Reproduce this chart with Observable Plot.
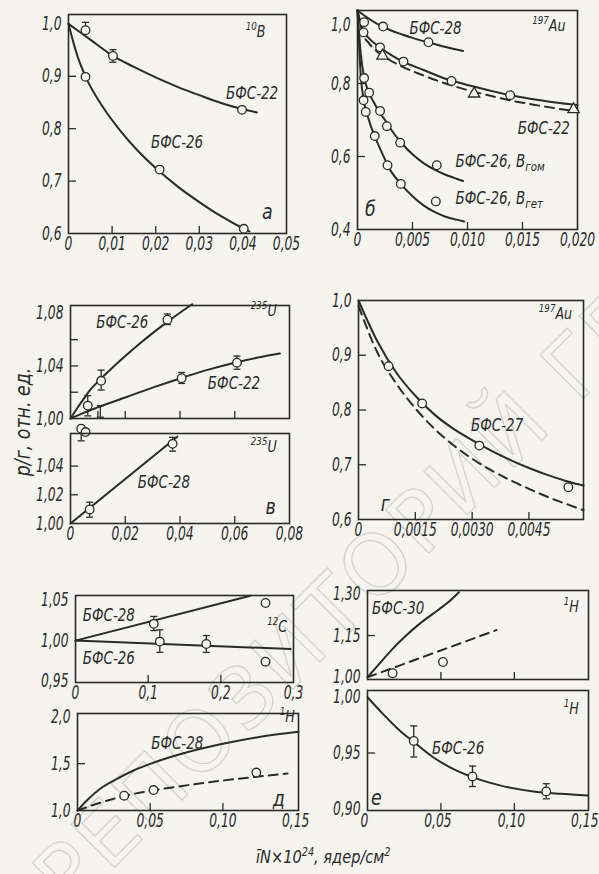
<!DOCTYPE html>
<html><head><meta charset="utf-8">
<script src="https://cdn.jsdelivr.net/npm/d3@7"></script>
<script src="https://cdn.jsdelivr.net/npm/@observablehq/plot@0.6"></script>
<style>
html,body{margin:0;padding:0;background:#f5f4ef;}
#fig{position:relative;width:599px;height:874px;overflow:hidden;background:#f5f4ef;
 font-family:"DejaVu Sans Condensed","DejaVu Sans",sans-serif;font-style:italic;color:#2a2a2a;}
#fig svg{position:absolute;overflow:visible;}
#ylab{position:absolute;left:23px;top:422px;transform:translate(-50%,-50%) rotate(-90deg) scale(0.92,1);white-space:nowrap;font-size:21px;}
#xlab{position:absolute;left:256px;top:846px;white-space:nowrap;font-size:18px;line-height:1;transform:scaleX(0.9);transform-origin:left center;}
#xlab sup{font-size:12px;vertical-align:7px;}
</style></head><body><div id="fig">
<div id="ylab">р/г, отн. ед.</div>
<div id="xlab">īN×10<sup>24</sup>, ядер/см<sup>2</sup></div>
</div>
<script>
// ---------- data: panel а (10B) ----------
const a22Curve = [[0,1.0],[0.005,0.97],[0.01,0.94],[0.015,0.918],[0.02,0.898],[0.025,0.88],[0.03,0.864],[0.035,0.849],[0.04,0.837],[0.0432,0.831]];
const a26Curve = [[0,1.0],[0.002,0.94],[0.004,0.898],[0.008,0.84],[0.012,0.795],[0.016,0.757],[0.02,0.725],[0.025,0.69],[0.03,0.66],[0.035,0.633],[0.04,0.61],[0.0415,0.604]];
const a22Pts = [[0.0039,0.988],[0.0102,0.939],[0.0398,0.836]];
const a22Err = [[0.0039,0.988,1.003],[0.0102,0.927,0.951]];
const a26Pts = [[0.0039,0.899],[0.0209,0.722],[0.0402,0.609]];
// ---------- panel б (197Au) ----------
const b28Curve = [[0,1.0],[0.001,0.978],[0.002,0.96],[0.003,0.946],[0.004,0.935],[0.005,0.925],[0.006,0.916],[0.007,0.908],[0.008,0.9],[0.0096,0.889]];
const b28Pts = [[0.0006,0.968],[0.00233,0.956],[0.00645,0.913]];
const b22Solid = [[0,1.0],[0.0005,0.945],[0.001,0.925],[0.002,0.9],[0.003,0.879],[0.004,0.862],[0.006,0.837],[0.008,0.813],[0.01,0.796],[0.012,0.781],[0.014,0.767],[0.016,0.757],[0.018,0.748],[0.02,0.741]];
const b22Pts = [[0.00055,0.94],[0.00205,0.899],[0.00418,0.86],[0.00855,0.807],[0.01388,0.768]];
const b22Dashed = [[0,1.0],[0.0005,0.935],[0.001,0.912],[0.002,0.882],[0.003,0.863],[0.004,0.847],[0.006,0.822],[0.008,0.8],[0.01,0.782],[0.012,0.767],[0.014,0.753],[0.016,0.742],[0.018,0.732],[0.02,0.723]];
const b22Tri = [[0.00227,0.876],[0.0106,0.772],[0.01964,0.729]];
const bGomCurve = [[0,1.0],[0.0003,0.88],[0.0006,0.818],[0.001,0.777],[0.0015,0.748],[0.002,0.72],[0.0025,0.70],[0.003,0.676],[0.004,0.637],[0.005,0.606],[0.006,0.582],[0.007,0.564],[0.008,0.55],[0.009,0.539],[0.0096,0.533]];
const bGomPts = [[0.0006,0.815],[0.00106,0.775],[0.00205,0.725],[0.00267,0.683],[0.00388,0.638],[0.00721,0.576]];
const bGetCurve = [[0,1.0],[0.0003,0.82],[0.0006,0.748],[0.001,0.703],[0.0015,0.66],[0.002,0.625],[0.003,0.562],[0.004,0.523],[0.005,0.491],[0.006,0.466],[0.007,0.448],[0.008,0.435],[0.009,0.427],[0.0097,0.422]];
const bGetPts = [[0.00055,0.754],[0.00075,0.722],[0.00157,0.656],[0.00273,0.576],[0.00394,0.525],[0.00712,0.477]];
// ---------- panel в (235U) ----------
const v26Curve = [[0,1.0],[0.0025,1.008],[0.005,1.0155],[0.0075,1.0225],[0.01,1.028],[0.015,1.038],[0.02,1.0475],[0.025,1.0565],[0.03,1.065],[0.035,1.073],[0.04,1.0805],[0.0445,1.087]];
const v26Pts = [[0.0063,1.0098],[0.0112,1.0287],[0.0354,1.0752]];
const v26Err = [[0.0063,1.002,1.0174],[0.0112,1.0217,1.0368],[0.0354,1.0715,1.0795]];
const v22Curve = [[0,1.0],[0.005,1.0045],[0.01,1.0085],[0.02,1.016],[0.03,1.0235],[0.04,1.0305],[0.05,1.037],[0.06,1.0425],[0.07,1.047],[0.0765,1.0495]];
const v22Pts = [[0.0406,1.0307],[0.0608,1.0425]];
const v22Err = [[0.0109,1.001,1.0098],[0.0406,1.0267,1.035],[0.0608,1.0375,1.0475]];
const vLowPts = [[0.0039,0.9922],[0.0055,0.9897]];
const vLowErr = [[0.0039,0.983,0.9922]];
const v28Line = [[0,1.0],[0.039,1.0605]];
const v28Pts = [[0.007,1.0098],[0.0373,1.0555]];
const v28Err = [[0.007,1.0044,1.0148],[0.0373,1.0504,1.060]];
// ---------- panel г (197Au, БФС-27) ----------
const gSolid = [[0,1.0],[0.0005,0.925],[0.001,0.868],[0.0015,0.826],[0.002,0.792],[0.0025,0.766],[0.003,0.745],[0.0035,0.726],[0.004,0.709],[0.0045,0.694],[0.005,0.681],[0.0055,0.67],[0.00594,0.662]];
const gDashed = [[0,0.99],[0.0005,0.905],[0.001,0.848],[0.0015,0.803],[0.002,0.766],[0.0025,0.736],[0.003,0.711],[0.0035,0.69],[0.004,0.672],[0.0045,0.656],[0.005,0.641],[0.0055,0.628],[0.00594,0.617]];
const gPts = [[0.000794,0.880],[0.00168,0.812],[0.00319,0.735],[0.00554,0.659]];
// ---------- panel д (12C, 1H) ----------
const d28Line = [[0,1.0],[0.2407,1.0556]];
const d26Line = [[0,1.0],[0.296,0.9896]];
const d28Pts = [[0.1078,1.0208]];
const d28Err = [[0.1078,1.0125,1.03]];
const d26Pts = [[0.116,0.9988],[0.18,0.9958]];
const d26Err = [[0.116,0.9854,1.0133],[0.18,0.9854,1.0063]];
const dCExtra = [[0.2615,1.0467],[0.2615,0.9738]];
const dHSolid = [[0,1.0],[0.0064,1.107],[0.0156,1.232],[0.0271,1.338],[0.0385,1.427],[0.05,1.498],[0.0729,1.611],[0.1,1.712],[0.125,1.785],[0.152,1.84]];
const dHDashed = [[0,1.0],[0.016,1.085],[0.0321,1.155],[0.0523,1.215],[0.075,1.268],[0.1,1.32],[0.123,1.36],[0.1445,1.395]];
const dHPts = [[0.0321,1.158],[0.0523,1.218],[0.123,1.405]];
// ---------- panel е (1H) ----------
const e30Solid = [[0,1.0],[0.008,1.048],[0.0171,1.102],[0.0263,1.15],[0.0354,1.192],[0.0445,1.228],[0.0537,1.264],[0.0623,1.306]];
const e30Dashed = [[0,1.0],[0.0217,1.042],[0.0445,1.086],[0.0674,1.13],[0.0879,1.17]];
const e30Pts = [[0.0171,1.0144],[0.0514,1.055]];
const e26Curve = [[0,1.0],[0.0103,0.9853],[0.0217,0.9704],[0.0315,0.9599],[0.0445,0.9464],[0.0559,0.9374],[0.0715,0.9284],[0.0902,0.921],[0.113,0.9156],[0.1313,0.9135],[0.15,0.912]];
const e26Pts = [[0.0315,0.9608],[0.0715,0.929],[0.1217,0.9156]];
const e26Err = [[0.0315,0.9464,0.9743],[0.0715,0.92,0.9383],[0.1217,0.909,0.9225]];

// ---------- styling ----------
const INK = "#2a2a2a", PAPER = "#f5f4ef";
const FONT = '"DejaVu Sans Condensed","DejaVu Sans",sans-serif';
const TICK_FS = 19, TICK_SX = 0.72, LABEL_SX = 0.88;
const fmt = dec => d => d === 0 ? "0" : d.toFixed(dec).replace(".", ",");
const CAP = {draw(ctx, size) { const w = Math.sqrt(size / Math.PI); ctx.moveTo(-w, 0); ctx.lineTo(w, 0); }};

const line = (data, dashed) => Plot.line(data, {x: d => d[0], y: d => d[1], curve: "monotone-x", stroke: INK, strokeWidth: 2, ...(dashed ? {strokeDasharray: "9,6"} : {})});
const dots = (data, symbol) => Plot.dot(data, {x: d => d[0], y: d => d[1], r: symbol ? 4.2 : 4.3, symbol: symbol || "circle", fill: PAPER, stroke: INK, strokeWidth: 1.3});
const errs = data => [
  Plot.ruleX(data, {x: d => d[0], y1: d => d[1], y2: d => d[2], stroke: INK, strokeWidth: 1.3}),
  Plot.dot(data, {x: d => d[0], y: d => d[1], symbol: CAP, r: 3.5, stroke: INK, strokeWidth: 1.3, fill: "none"}),
  Plot.dot(data, {x: d => d[0], y: d => d[2], symbol: CAP, r: 3.5, stroke: INK, strokeWidth: 1.3, fill: "none"})
];
const txt = (list, opts = {}) => Plot.text(list, {x: d => d.x, y: d => d.y, text: d => d.t, fill: INK, fontSize: 17, ...opts});

function rich(svg) {
  for (const el of svg.querySelectorAll("text")) {
    const s = el.textContent;
    if (!/[\^_]/.test(s)) continue;
    el.textContent = "";
    const re = /\^([^\^]*)\^|_([^_]*)_|([^\^_]+)/g;
    let m, off = 0;
    while ((m = re.exec(s))) {
      const t = document.createElementNS("http://www.w3.org/2000/svg", "tspan");
      let target = 0, size = null;
      if (m[1] !== undefined) { target = -7; size = 11; t.textContent = m[1]; }
      else if (m[2] !== undefined) { target = 4; size = 13; t.textContent = m[2]; }
      else { t.textContent = m[3]; }
      t.setAttribute("dy", target - off); off = target;
      if (size) t.setAttribute("font-size", size);
      el.appendChild(t);
    }
  }
}
function condense(el, s) {
  const tr = el.getAttribute("transform") || "";
  if (el.hasAttribute("x")) el.setAttribute("x", (+el.getAttribute("x")) / s);
  el.setAttribute("transform", (tr + ` scale(${s},1)`).trim());
}

const fig = document.getElementById("fig");

function panel(p) {
  const mL = 64, mR = 24, mT = 14, mB = 34;
  const w = p.fx1 - p.fx0, h = p.fy1 - p.fy0;
  const [x0, x1] = p.xd, [y0, y1] = p.yd;
  const kx = 7 / h * (y1 - y0);
  const ky = 8 / w * (x1 - x0);
  const axisOpts = {tickSize: 0, label: null, fontSize: TICK_FS, fill: INK};
  const marks = [
    Plot.frame({stroke: INK, strokeWidth: 1.6}),
    Plot.ruleX(p.xticks, {x: d => d, y1: y0, y2: y0 + kx, stroke: INK, strokeWidth: 1.3}),
    Plot.ruleY(p.yticks, {y: d => d, x1: x0, x2: x0 + ky, stroke: INK, strokeWidth: 1.3}),
    Plot.axisY({ticks: p.ylabels, tickPadding: 7, tickFormat: fmt(p.ydec), ...axisOpts})
  ];
  if (p.yExtra) marks.push(Plot.axisY({ticks: p.yExtra, tickPadding: 7, tickFormat: fmt(p.ydec), ...axisOpts, dy: 14}));
  if (p.xlabels) marks.push(Plot.axisX({ticks: p.xlabels, tickPadding: 3, tickFormat: fmt(p.xdec), ...axisOpts, dx: p.xdx || 0}));
  marks.push(...p.marks);
  const svg = Plot.plot({
    width: w + mL + mR, height: h + mT + mB,
    marginLeft: mL, marginRight: mR, marginTop: mT, marginBottom: mB,
    x: {domain: p.xd, ...(p.xlabels ? {} : {axis: null})},
    y: {domain: p.yd},
    style: {background: "transparent", fontFamily: FONT, fontStyle: "italic", fontSize: "17px", color: INK, overflow: "visible"},
    marks
  });
  rich(svg);
  svg.querySelectorAll('g[aria-label$="tick label"] text').forEach(el => condense(el, TICK_SX));
  svg.querySelectorAll('g[aria-label="text"] text').forEach(el => condense(el, LABEL_SX));
  svg.style.position = "absolute";
  svg.style.left = (p.fx0 - mL) + "px";
  svg.style.top = (p.fy0 - mT) + "px";
  svg.style.maxWidth = "none";
  fig.appendChild(svg);
}

// watermark
(function () {
  const s = d3.create("svg").attr("width", 599).attr("height", 874).style("left", "0px").style("top", "0px");
  s.append("text").attr("transform", "translate(70,912) rotate(-45)")
    .attr("font-family", "DejaVu Sans").attr("font-size", 84).attr("font-style", "normal")
    .attr("letter-spacing", 4).attr("fill", "none").attr("stroke", "#d3d1cb").attr("stroke-width", 1.3)
    .text("РЕПОЗИТОРИЙ ГГУ");
  fig.appendChild(s.node());
})();

// panel а
panel({fx0: 68, fx1: 286, fy0: 14, fy1: 233, xd: [0, 0.05], yd: [0.6, 1.018],
  xticks: [0.01, 0.02, 0.03, 0.04], yticks: [0.7, 0.8, 0.9], ylabels: [0.6, 0.7, 0.8, 0.9, 1.0], ydec: 1,
  xlabels: [0, 0.01, 0.02, 0.03, 0.04, 0.05], xdec: 2,
  marks: [line(a22Curve), line(a26Curve), ...errs(a22Err), dots(a22Pts), dots(a26Pts),
    txt([{t: "БФС-22", x: 0.0421, y: 0.867}, {t: "БФС-26", x: 0.0249, y: 0.774}]),
    txt([{t: "^10^B", x: 0.0429, y: 0.984}], {fontSize: 16}),
    txt([{t: "а", x: 0.0456, y: 0.641}], {fontSize: 22})]});

// panel б
panel({fx0: 357, fx1: 577, fy0: 10, fy1: 229, xd: [0, 0.02], yd: [0.4, 1.0],
  xticks: [0.005, 0.01, 0.015], yticks: [0.6, 0.8], ylabels: [0.4, 0.6, 0.8], yExtra: [1.0], ydec: 1,
  xlabels: [0, 0.005, 0.01, 0.015, 0.02], xdec: 3,
  marks: [line(b28Curve), line(b22Solid), line(b22Dashed, true), line(bGomCurve), line(bGetCurve),
    dots(b28Pts), dots(b22Pts), dots(b22Tri, "triangle"), dots(bGomPts), dots(bGetPts),
    txt([{t: "БФС-28", x: 0.00709, y: 0.95}, {t: "БФС-22", x: 0.01694, y: 0.676}]),
    txt([{t: "БФС-26, B_гом_", x: 0.0089, y: 0.585}, {t: "БФС-26, B_гет_", x: 0.0089, y: 0.484}], {textAnchor: "start"}),
    txt([{t: "^197^Au", x: 0.01739, y: 0.959}], {fontSize: 16}),
    txt([{t: "б", x: 0.00118, y: 0.457}], {fontSize: 22})]});

// panel в (upper)
panel({fx0: 70, fx1: 289, fy0: 305, fy1: 418, xd: [0, 0.08], yd: [1.0, 1.086],
  xticks: [0.01, 0.02, 0.04, 0.06], yticks: [1.02, 1.04, 1.06], ylabels: [1.0, 1.04, 1.08], ydec: 2,
  marks: [line(v26Curve), line(v22Curve), ...errs(v26Err), ...errs(v22Err), ...errs(vLowErr),
    dots(v26Pts), dots(v22Pts), dots(vLowPts),
    txt([{t: "БФС-26", x: 0.0189, y: 1.0733}, {t: "БФС-22", x: 0.0597, y: 1.0264}]),
    txt([{t: "^235^U", x: 0.0706, y: 1.0822}], {fontSize: 16})]});

// panel в (lower)
panel({fx0: 70, fx1: 289, fy0: 433, fy1: 523, xd: [0, 0.08], yd: [1.0, 1.0627],
  xticks: [0.02, 0.04, 0.06], yticks: [1.02, 1.04], ylabels: [1.0, 1.02, 1.04], ydec: 2,
  xlabels: [0, 0.02, 0.04, 0.06, 0.08], xdec: 2,
  marks: [line(v28Line), ...errs(v28Err), dots(v28Pts),
    txt([{t: "БФС-28", x: 0.0341, y: 1.0288}]),
    txt([{t: "^235^U", x: 0.0706, y: 1.0532}], {fontSize: 16}),
    txt([{t: "в", x: 0.0731, y: 1.0114}], {fontSize: 22})]});

// panel г
panel({fx0: 358, fx1: 583, fy0: 300, fy1: 519, xd: [0, 0.00594], yd: [0.6, 1.0],
  xticks: [0.0015, 0.003, 0.0045], yticks: [0.7, 0.8, 0.9], ylabels: [0.6, 0.7, 0.8, 0.9, 1.0], ydec: 1,
  xlabels: [0, 0.0015, 0.003, 0.0045], xdec: 4,
  marks: [line(gSolid), line(gDashed, true), dots(gPts),
    txt([{t: "БФС-27", x: 0.00366, y: 0.772}]),
    txt([{t: "^197^Au", x: 0.0052, y: 0.976}], {fontSize: 16}),
    txt([{t: "г", x: 0.00071, y: 0.629}], {fontSize: 22})]});

// panel д (upper, 12C)
panel({fx0: 75, fx1: 293, fy0: 595, fy1: 682, xd: [0, 0.3], yd: [0.948, 1.056],
  xticks: [0.1, 0.2], yticks: [1.0], ylabels: [0.95, 1.0, 1.05], ydec: 2,
  xlabels: [0, 0.1, 0.2, 0.3], xdec: 1,
  marks: [line(d28Line), line(d26Line), ...errs(d28Err), ...errs(d26Err), dots(d28Pts), dots(d26Pts), dots(dCExtra),
    txt([{t: "БФС-28", x: 0.0458, y: 1.0312}, {t: "БФС-26", x: 0.0458, y: 0.9774}]),
    txt([{t: "^12^C", x: 0.2776, y: 1.0166}], {fontSize: 16})]});

// panel д (lower, 1H)
panel({fx0: 77, fx1: 298, fy0: 713, fy1: 810, xd: [0, 0.152], yd: [1.0, 2.035],
  xticks: [0.05, 0.1], yticks: [1.5], ylabels: [1.0, 1.5, 2.0], ydec: 1,
  xlabels: [0, 0.05, 0.1, 0.15], xdec: 2,
  marks: [line(dHSolid), line(dHDashed, true), dots(dHPts),
    txt([{t: "БФС-28", x: 0.0686, y: 1.712}]),
    txt([{t: "^1^H", x: 0.1442, y: 1.995}], {fontSize: 16}),
    txt([{t: "д", x: 0.1385, y: 1.125}], {fontSize: 22})]});

// panel е (upper)
panel({fx0: 367, fx1: 588, fy0: 590, fy1: 679, xd: [0, 0.1505], yd: [0.992, 1.312],
  xticks: [0.05, 0.1], yticks: [1.15], ylabels: [1.0, 1.15, 1.3], ydec: 2,
  marks: [line(e30Solid), line(e30Dashed, true), dots(e30Pts),
    txt([{t: "БФС-30", x: 0.0209, y: 1.246}]),
    txt([{t: "^1^H", x: 0.1388, y: 1.252}], {fontSize: 16})]});

// panel е (lower)
panel({fx0: 367, fx1: 588, fy0: 690, fy1: 810, xd: [0, 0.1505], yd: [0.8985, 1.006],
  xticks: [0.05, 0.1], yticks: [0.95], ylabels: [0.9, 0.95, 1.0], ydec: 2,
  xlabels: [0, 0.05, 0.1, 0.15], xdec: 2, xdx: -3,
  marks: [line(e26Curve), ...errs(e26Err), dots(e26Pts),
    txt([{t: "БФС-26", x: 0.0617, y: 0.954}]),
    txt([{t: "^1^H", x: 0.1388, y: 0.9899}], {fontSize: 16}),
    txt([{t: "е", x: 0.0061, y: 0.9093}], {fontSize: 22})]});
</script></body></html>
